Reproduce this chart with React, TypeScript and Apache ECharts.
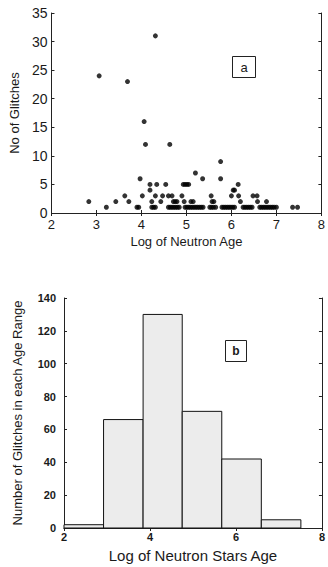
import React, { useEffect, useRef } from "react";
import * as echarts from "echarts";

// Panel a: log of neutron star age vs number of glitches
const ageLog = [
  2.83, 3.06, 3.22, 3.43, 3.63, 3.69, 3.72, 3.9, 3.94, 3.97, 4.02, 4.06, 4.09, 4.19, 4.19,
  4.23, 4.23, 4.27, 4.31, 4.31, 4.31, 4.34, 4.43, 4.47, 4.54, 4.6, 4.63, 4.68, 4.6, 4.64,
  4.68, 4.72, 4.76, 4.8, 4.84, 4.71, 4.75, 4.79, 4.9, 4.93, 4.97, 5.01, 5.05, 4.95, 5.1,
  5.15, 4.97, 5.01, 5.05, 5.09, 5.13, 5.17, 5.21, 5.25, 5.29, 5.33, 5.37, 5.2, 5.36, 5.55,
  5.57, 5.61, 5.52, 5.56, 5.6, 5.65, 5.76, 5.76, 5.79, 5.83, 5.87, 5.91, 5.95, 5.99, 6.03,
  6.07, 6.0, 6.04, 6.07, 6.15, 6.16, 6.2, 6.26, 6.3, 6.34, 6.38, 6.42, 6.46, 6.48, 6.57,
  6.58, 6.63, 6.67, 6.71, 6.75, 6.79, 6.83, 6.87, 6.91, 6.95, 7.0, 6.78, 7.36, 7.47,
];
const glitchCount = [
  2, 24, 1, 2, 3, 23, 2, 1, 1, 6, 3, 16, 12, 4, 5,
  2, 1, 1, 1, 3, 31, 5, 2, 3, 5, 3, 12, 3, 1, 1,
  1, 1, 1, 1, 1, 2, 2, 2, 3, 5, 5, 5, 5, 2, 2,
  2, 1, 1, 1, 1, 1, 1, 1, 1, 1, 1, 1, 7, 6, 3,
  2, 2, 1, 1, 1, 1, 9, 6, 1, 1, 1, 1, 1, 1, 1,
  1, 3, 4, 4, 5, 3, 2, 1, 1, 1, 1, 1, 1, 3, 3,
  2, 1, 1, 1, 1, 1, 1, 1, 1, 1, 1, 2, 1, 1,
];

// Panel b: histogram of glitches per age range
const binEdges = [2.0, 2.92, 3.84, 4.75, 5.67, 6.59, 7.51];
const binCounts = [2, 66, 130, 71, 42, 5];

export default function App() {
  const ref = useRef<HTMLDivElement>(null);

  useEffect(() => {
    const chart = echarts.init(ref.current!, null, { renderer: "svg" });
    const axisColor = "#222";
    const textColor = "#1a1a1a";
    const font = "'Liberation Sans', Arial, sans-serif";

    const frameAxis = (extra: any) => ({
      type: "value",
      axisLine: { show: true, lineStyle: { color: axisColor, width: 1 } },
      axisTick: { show: true, inside: true, length: 3, lineStyle: { color: axisColor } },
      splitLine: { show: false },
      ...extra,
    });

    const scatterData = ageLog.map((x, i) => [x, glitchCount[i]]);
    const histData = binCounts.map((c, i) => [binEdges[i], binEdges[i + 1], c]);

    chart.setOption({
      animation: false,
      backgroundColor: "#fff",
      textStyle: { fontFamily: font },
      grid: [
        { left: 51, right: 4, top: 13, height: 200 },
        { left: 64, right: 0, top: 298, height: 230 },
      ],
      xAxis: [
        frameAxis({
          gridIndex: 0, position: "bottom", min: 2, max: 8, interval: 1,
          axisLabel: { fontSize: 13, margin: 5, color: textColor, fontFamily: font },
          name: "Log of Neutron Age", nameLocation: "middle", nameGap: 22,
          nameTextStyle: { fontSize: 13, color: textColor, fontFamily: font },
        }),
        frameAxis({
          gridIndex: 0, position: "top", min: 2, max: 8, interval: 1,
          axisLabel: { show: false },
        }),
        frameAxis({
          gridIndex: 1, position: "bottom", min: 2, max: 8, interval: 2,
          axisLabel: { fontSize: 11, fontWeight: "bold", margin: 3, color: textColor, fontFamily: font },
          name: "Log of Neutron Stars Age", nameLocation: "middle", nameGap: 20,
          nameTextStyle: { fontSize: 15, color: textColor, fontFamily: font },
        }),
        frameAxis({
          gridIndex: 1, position: "top", min: 2, max: 8, interval: 2,
          axisLabel: { show: false },
        }),
      ],
      yAxis: [
        frameAxis({
          gridIndex: 0, position: "left", min: 0, max: 35, interval: 5,
          axisLabel: { fontSize: 14, margin: 4, color: textColor, fontFamily: font },
          name: "No of Glitches", nameLocation: "middle", nameGap: 26, nameRotate: 90,
          nameTextStyle: { fontSize: 13, color: textColor, fontFamily: font },
        }),
        frameAxis({
          gridIndex: 0, position: "right", min: 0, max: 35, interval: 5,
          axisLabel: { show: false },
        }),
        frameAxis({
          gridIndex: 1, position: "left", min: 0, max: 140, interval: 20,
          axisLabel: { fontSize: 11, fontWeight: "bold", margin: 8, color: textColor, fontFamily: font },
          name: "Number of Glitches in each Age Range", nameLocation: "middle", nameGap: 40,
          nameRotate: 90,
          nameTextStyle: { fontSize: 13, color: textColor, fontFamily: font },
        }),
        frameAxis({
          gridIndex: 1, position: "right", min: 0, max: 140, interval: 20,
          axisLabel: { show: false },
        }),
      ],
      series: [
        {
          type: "scatter",
          xAxisIndex: 0,
          yAxisIndex: 0,
          symbol: "circle",
          symbolSize: 5,
          itemStyle: { color: "#000" },
          data: scatterData,
        },
        {
          type: "custom",
          xAxisIndex: 2,
          yAxisIndex: 2,
          encode: { x: [0, 1], y: 2 },
          data: histData,
          renderItem: (params: any, api: any) => {
            const x0 = api.value(0);
            const x1 = api.value(1);
            const h = api.value(2);
            const p0 = api.coord([x0, h]);
            const p1 = api.coord([x1, 0]);
            return {
              type: "rect",
              shape: { x: p0[0], y: p0[1], width: p1[0] - p0[0], height: p1[1] - p0[1] },
              style: { fill: "#ececec", stroke: "#111", lineWidth: 1 },
            };
          },
        },
      ],
      graphic: [
        {
          type: "group",
          left: 232,
          top: 56,
          children: [
            { type: "rect", shape: { x: 0, y: 0, width: 23, height: 21 }, style: { fill: "#fff", stroke: "#222", lineWidth: 1 } },
            { type: "text", x: 11.5, y: 10.5, style: { text: "a", fontSize: 13, fontFamily: font, fill: textColor, align: "center", verticalAlign: "middle" } },
          ],
        },
        {
          type: "group",
          left: 225,
          top: 340,
          children: [
            { type: "rect", shape: { x: 0, y: 0, width: 21, height: 21 }, style: { fill: "#fff", stroke: "#222", lineWidth: 1 } },
            { type: "text", x: 10.5, y: 10.5, style: { text: "b", fontSize: 12, fontWeight: "bold", fontFamily: font, fill: textColor, align: "center", verticalAlign: "middle" } },
          ],
        },
      ],
    });

    return () => chart.dispose();
  }, []);

  return (
    <div
      ref={ref}
      style={{ position: "fixed", left: 0, top: 0, width: 328, height: 567, background: "#fff" }}
    />
  );
}
